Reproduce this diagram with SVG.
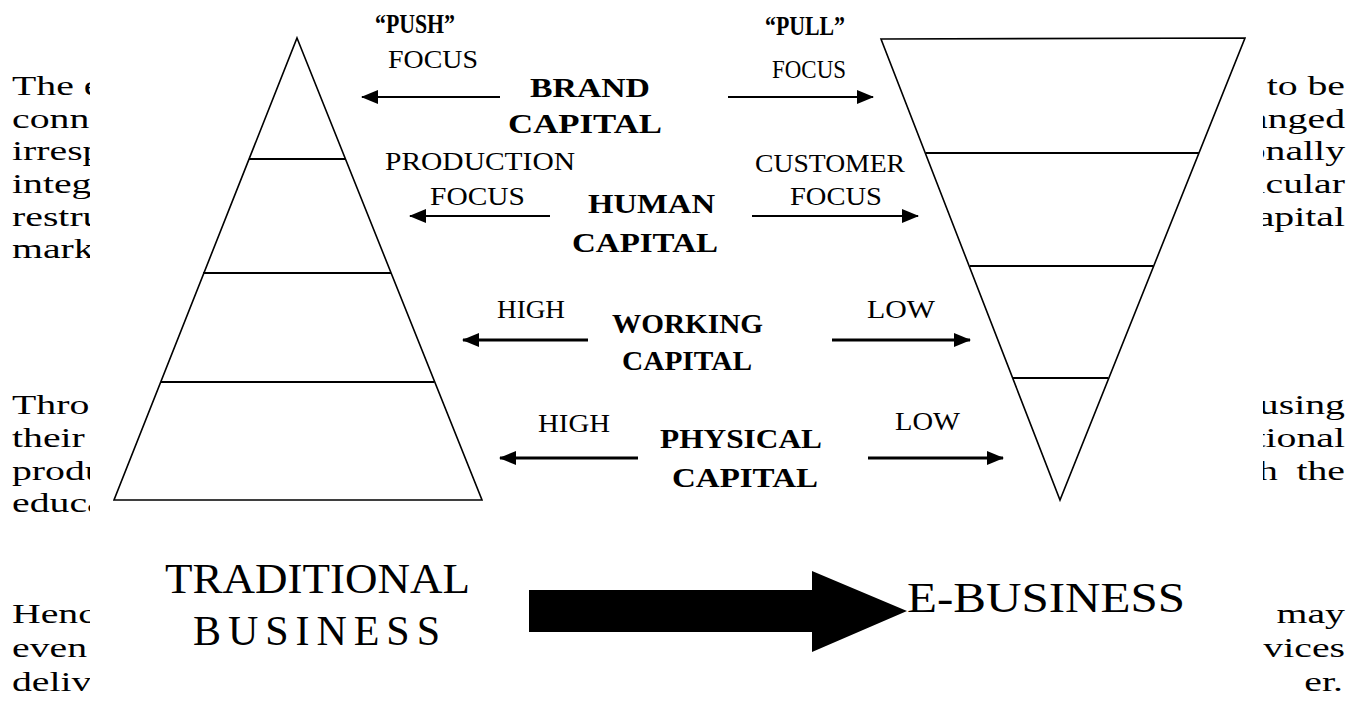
<svg xmlns="http://www.w3.org/2000/svg" width="1365" height="725" viewBox="0 0 1365 725">
  <style>
    .body { font-family: "Liberation Serif", "Times New Roman", serif; font-size: 28px; fill: #000; }
    .lbl { font-family: "Liberation Serif", "Times New Roman", serif; font-size: 26px; fill: #000; }
    .bold { font-family: "Liberation Serif", "Times New Roman", serif; font-size: 28px; font-weight: bold; fill: #000; }
    .big { font-family: "Liberation Serif", "Times New Roman", serif; font-size: 42px; fill: #000; }
    .shape { fill: none; stroke: #000; stroke-width: 1.6; stroke-linejoin: miter; }
    .tier { stroke: #000; stroke-width: 2; }
    .thin { stroke: #000; stroke-width: 1.8; fill: none; }
    .thick { stroke: #000; stroke-width: 3; fill: none; }
  </style>
  <defs>
    <!-- filled triangular arrowhead, fixed size regardless of line weight -->
    <marker id="head" viewBox="0 0 17 14" refX="16" refY="7" markerWidth="17" markerHeight="14" markerUnits="userSpaceOnUse" orient="auto">
      <path d="M0,0 L17,7 L0,14 Z" fill="#000"/>
    </marker>
    <clipPath id="clipLeft"><rect x="0" y="0" width="90" height="725"/></clipPath>
    <clipPath id="clipRight"><rect x="1263" y="0" width="102" height="725"/></clipPath>
  </defs>
  <rect width="1365" height="725" fill="#fff"/>

  <!-- body text running past the figure, left margin -->
  <g id="text-left" class="body" clip-path="url(#clipLeft)">
    <text transform="matrix(1.42 0 0 1 12 95)">The e</text>
    <text transform="matrix(1.42 0 0 1 12 128)">conne</text>
    <text transform="matrix(1.42 0 0 1 12 160)">irresp</text>
    <text transform="matrix(1.42 0 0 1 12 193)">integr</text>
    <text transform="matrix(1.42 0 0 1 12 226)">restru</text>
    <text transform="matrix(1.42 0 0 1 12 258)">mark</text>
    <text transform="matrix(1.42 0 0 1 12 414)">Throu</text>
    <text transform="matrix(1.42 0 0 1 12 447)">their</text>
    <text transform="matrix(1.42 0 0 1 12 480)">produ</text>
    <text transform="matrix(1.42 0 0 1 12 512)">educa</text>
    <text transform="matrix(1.42 0 0 1 12 623)">Hence</text>
    <text transform="matrix(1.42 0 0 1 12 657)">even</text>
    <text transform="matrix(1.42 0 0 1 12 691)">deliv</text>
  </g>

  <!-- body text, right margin (justified to the right edge) -->
  <g id="text-right" class="body" clip-path="url(#clipRight)" text-anchor="end">
    <text transform="matrix(1.42 0 0 1 1345 95)">to be</text>
    <text transform="matrix(1.42 0 0 1 1345 128)">anged</text>
    <text transform="matrix(1.42 0 0 1 1345 160)">onally</text>
    <text transform="matrix(1.42 0 0 1 1345 193)">icular</text>
    <text transform="matrix(1.42 0 0 1 1345 226)">capital</text>
    <text transform="matrix(1.42 0 0 1 1345 414)">using</text>
    <text transform="matrix(1.42 0 0 1 1345 447)">tional</text>
    <text transform="matrix(1.42 0 0 1 1345 480)" word-spacing="6">h the</text>
    <text transform="matrix(1.42 0 0 1 1345 623)">may</text>
    <text transform="matrix(1.42 0 0 1 1345 657)">vices</text>
    <text transform="matrix(1.42 0 0 1 1343 691)">er.</text>
  </g>

  <!-- traditional business pyramid -->
  <g id="pyramid-traditional">
    <polygon class="shape" points="297,38 482,500 114,500"/>
    <line class="tier" x1="249" y1="159" x2="346" y2="159"/>
    <line class="tier" x1="203" y1="273" x2="391" y2="273"/>
    <line class="tier" x1="161" y1="382" x2="434" y2="382"/>
  </g>

  <!-- e-business inverted pyramid -->
  <g id="pyramid-ebusiness">
    <polygon class="shape" points="881,39 1245,38 1060,500"/>
    <line class="tier" x1="926" y1="153" x2="1199" y2="153"/>
    <line class="tier" x1="970" y1="266" x2="1153" y2="266"/>
    <line class="tier" x1="1013" y1="378" x2="1108" y2="378"/>
  </g>

  <!-- capital rows -->
  <g id="brand-capital">
    <text class="bold" x="375" y="33" textLength="80" lengthAdjust="spacingAndGlyphs" font-size="25">“PUSH”</text>
    <text class="lbl" x="388" y="68" textLength="90" lengthAdjust="spacingAndGlyphs">FOCUS</text>
    <text class="bold" x="530" y="97" textLength="120" lengthAdjust="spacingAndGlyphs">BRAND</text>
    <text class="bold" x="508" y="133" textLength="154" lengthAdjust="spacingAndGlyphs">CAPITAL</text>
    <text class="bold" x="765" y="35" textLength="80" lengthAdjust="spacingAndGlyphs" font-size="25">“PULL”</text>
    <text class="lbl" x="772" y="78" textLength="74" lengthAdjust="spacingAndGlyphs">FOCUS</text>
  </g>
  <g id="human-capital">
    <text class="lbl" x="385" y="170" textLength="190" lengthAdjust="spacingAndGlyphs">PRODUCTION</text>
    <text class="lbl" x="430" y="205" textLength="95" lengthAdjust="spacingAndGlyphs">FOCUS</text>
    <text class="bold" x="588" y="213" textLength="127" lengthAdjust="spacingAndGlyphs">HUMAN</text>
    <text class="bold" x="572" y="252" textLength="146" lengthAdjust="spacingAndGlyphs">CAPITAL</text>
    <text class="lbl" x="755" y="172" textLength="150" lengthAdjust="spacingAndGlyphs">CUSTOMER</text>
    <text class="lbl" x="790" y="205" textLength="92" lengthAdjust="spacingAndGlyphs">FOCUS</text>
  </g>
  <g id="working-capital">
    <text class="lbl" x="497" y="318" textLength="68" lengthAdjust="spacingAndGlyphs">HIGH</text>
    <text class="bold" x="612" y="333" textLength="151" lengthAdjust="spacingAndGlyphs">WORKING</text>
    <text class="bold" x="622" y="370" textLength="130" lengthAdjust="spacingAndGlyphs">CAPITAL</text>
    <text class="lbl" x="867" y="318" textLength="68" lengthAdjust="spacingAndGlyphs">LOW</text>
  </g>
  <g id="physical-capital">
    <text class="lbl" x="538" y="432" textLength="72" lengthAdjust="spacingAndGlyphs">HIGH</text>
    <text class="bold" x="660" y="448" textLength="162" lengthAdjust="spacingAndGlyphs">PHYSICAL</text>
    <text class="bold" x="672" y="487" textLength="146" lengthAdjust="spacingAndGlyphs">CAPITAL</text>
    <text class="lbl" x="895" y="430" textLength="65" lengthAdjust="spacingAndGlyphs">LOW</text>
  </g>

  <!-- business labels -->
  <g id="traditional-business">
    <text class="big" x="165" y="593" textLength="305" lengthAdjust="spacingAndGlyphs">TRADITIONAL</text>
    <text class="big" x="193" y="645" textLength="247" lengthAdjust="spacing">BUSINESS</text>
  </g>
  <g id="e-business">
    <text class="big" x="907" y="612" textLength="278" lengthAdjust="spacingAndGlyphs">E-BUSINESS</text>
  </g>

  <!-- connectors -->
  <g id="connectors">
    <line class="thin" x1="500" y1="97" x2="362" y2="97" marker-end="url(#head)"/>
    <line class="thin" x1="728" y1="97" x2="873" y2="97" marker-end="url(#head)"/>
    <line class="thin" x1="550" y1="216" x2="410" y2="216" marker-end="url(#head)"/>
    <line class="thin" x1="752" y1="216" x2="918" y2="216" marker-end="url(#head)"/>
    <line class="thick" x1="588" y1="340" x2="463" y2="340" marker-end="url(#head)"/>
    <line class="thick" x1="832" y1="340" x2="970" y2="340" marker-end="url(#head)"/>
    <line class="thick" x1="638" y1="458" x2="500" y2="458" marker-end="url(#head)"/>
    <line class="thick" x1="868" y1="458" x2="1003" y2="458" marker-end="url(#head)"/>
    <polygon id="shift-arrow" points="529,590 812,590 812,571 907,611 812,652 812,632 529,632" fill="#000"/>
  </g>
</svg>
